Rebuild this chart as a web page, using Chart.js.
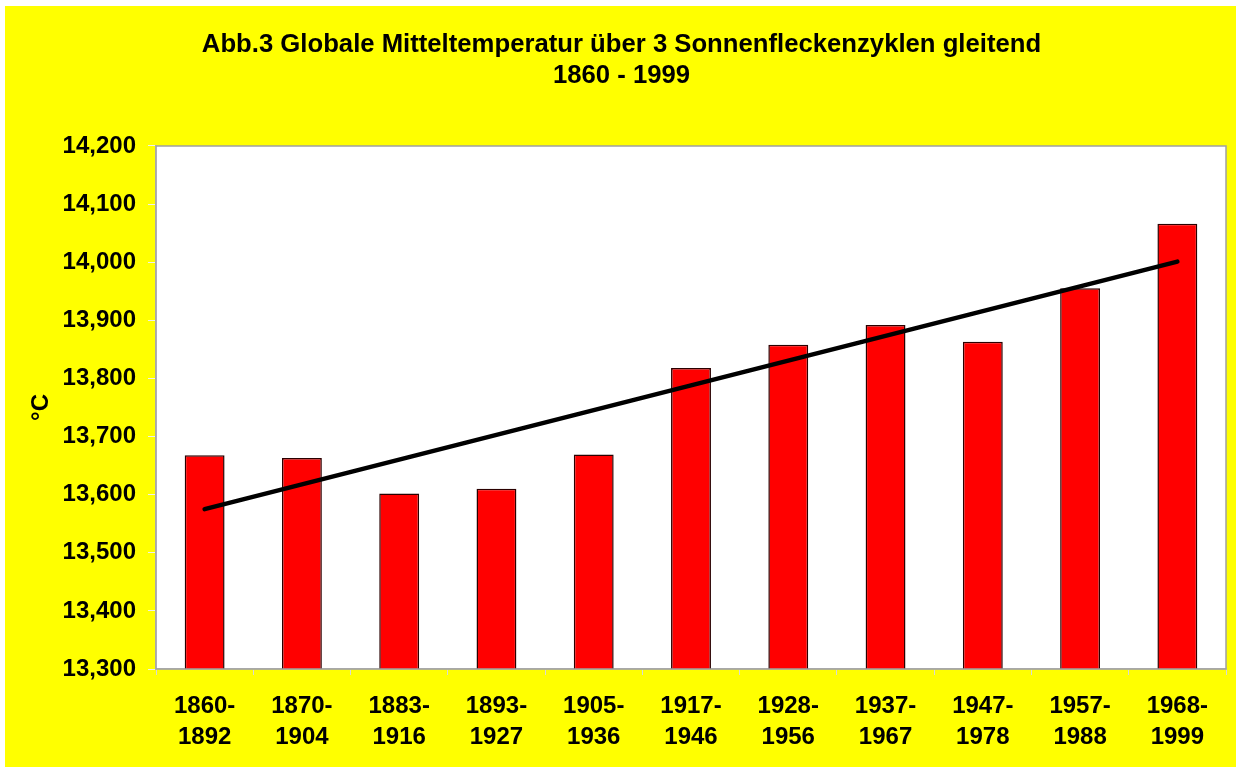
<!DOCTYPE html>
<html>
<head>
<meta charset="utf-8">
<script src="https://cdn.jsdelivr.net/npm/chart.js@4/dist/chart.umd.min.js"></script>
<style>
  html, body { margin: 0; padding: 0; background: #ffffff; }
  #wrap { position: absolute; left: 5px; top: 6px; width: 1231px; height: 761px; background: #ffff00; }
  canvas { display: block; }
</style>
</head>
<body>
<div id="wrap"><canvas id="c" width="1231" height="761"></canvas></div>
<script>
const categories = [
  ["1860-", "1892"], ["1870-", "1904"], ["1883-", "1916"], ["1893-", "1927"],
  ["1905-", "1936"], ["1917-", "1946"], ["1928-", "1956"], ["1937-", "1967"],
  ["1947-", "1978"], ["1957-", "1988"], ["1968-", "1999"]
];
const temperatures = [13.668, 13.663, 13.602, 13.610, 13.669, 13.818, 13.858, 13.892, 13.863, 13.955, 14.066];
const trendLine = [13.575, null, null, null, null, null, null, null, null, null, 14.001];
const yMin = 13.3, yMax = 14.2, yStep = 0.1;
const titleLines = ["Abb.3 Globale Mitteltemperatur über 3 Sonnenfleckenzyklen gleitend", "1860 - 1999"];
const yTitle = "°C";

const FONT = "'Liberation Sans', Arial, sans-serif";

const plotFrame = {
  id: 'plotFrame',
  beforeDraw(chart) {
    const {ctx, chartArea: a} = chart;
    ctx.save();
    ctx.fillStyle = '#ffffff';
    ctx.fillRect(a.left, a.top, a.right - a.left, a.bottom - a.top);
    ctx.restore();
  },
  afterDatasetsDraw(chart) {
    const {ctx, chartArea: a} = chart;
    ctx.save();
    ctx.strokeStyle = '#a0a0a0';
    ctx.lineWidth = 1.5;
    ctx.strokeRect(a.left, a.top, a.right - a.left, a.bottom - a.top);
    ctx.restore();
  }
};

new Chart(document.getElementById('c'), {
  data: {
    labels: categories,
    datasets: [
      {
        type: 'line',
        data: trendLine,
        spanGaps: true,
        borderColor: '#000000',
        borderWidth: 4.5,
        borderCapStyle: 'round',
        pointRadius: 0,
        fill: false,
        order: 0
      },
      {
        type: 'bar',
        data: temperatures,
        backgroundColor: '#ff0000',
        borderColor: '#2a0000',
        borderWidth: 1.5,
        borderSkipped: false,
        categoryPercentage: 1.0,
        barPercentage: 0.41,
        order: 1
      }
    ]
  },
  options: {
    responsive: false,
    animation: false,
    layout: { padding: { left: 12, right: 10, top: 0, bottom: 0 } },
    plugins: {
      legend: { display: false },
      tooltip: { enabled: false },
      title: {
        display: true,
        text: titleLines,
        color: '#000000',
        font: { family: FONT, size: 25.7, weight: 'bold', lineHeight: 1.206 },
        padding: { top: 23, bottom: 55 }
      }
    },
    scales: {
      x: {
        type: 'category',
        offset: true,
        grid: { display: true, drawOnChartArea: false, color: '#d8d8d8', tickLength: 6, offset: true },
        border: { display: true, color: '#c0c0c0', width: 1.5 },
        ticks: {
          color: '#000000',
          font: { family: FONT, size: 24, weight: 'bold', lineHeight: 1.29 },
          padding: 16,
          maxRotation: 0,
          autoSkip: false
        },
        afterFit(scale) { scale.height = 98; }
      },
      y: {
        min: yMin,
        max: yMax,
        grid: { display: true, drawOnChartArea: false, color: '#f0f0f0', tickLength: 8 },
        border: { display: true, color: '#c0c0c0', width: 1.5 },
        ticks: {
          stepSize: yStep,
          color: '#000000',
          font: { family: FONT, size: 24, weight: 'bold' },
          padding: 12,
          callback: v => v.toFixed(3).replace('.', ',')
        },
        title: {
          display: true,
          text: yTitle,
          color: '#000000',
          font: { family: FONT, size: 24, weight: 'bold', lineHeight: 1.2 },
          padding: { top: 10, bottom: 0 }
        },
        afterFit(scale) { scale.width = 139; }
      }
    }
  },
  plugins: [plotFrame]
});
</script>
</body>
</html>
